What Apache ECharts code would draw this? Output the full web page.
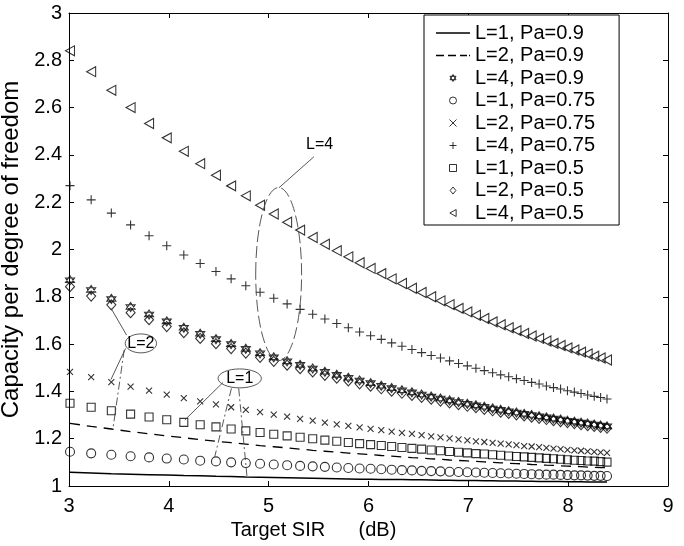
<!DOCTYPE html>
<html>
<head>
<meta charset="utf-8">
<script src="https://cdn.jsdelivr.net/npm/echarts@6/dist/echarts.min.js"></script>
<style>
html,body{margin:0;padding:0;background:#fff;}
#chart{width:684px;height:546px;}
</style>
</head>
<body>
<div id="chart"></div>
<script>
// Target SIR in dB (x positions of the computed points)
const sirDb = [3.010,3.222,3.424,3.617,3.802,3.979,4.150,4.314,4.472,4.624,
  4.771,4.914,5.051,5.185,5.315,5.441,5.563,5.682,5.798,5.911,
  6.021,6.128,6.232,6.335,6.435,6.532,6.628,6.721,6.812,6.902,
  6.990,7.076,7.160,7.243,7.324,7.404,7.482,7.559,7.634,7.709,
  7.782,7.853,7.924,7.993,8.062,8.129,8.195,8.261,8.325,8.389];

const seriesNames = ['L=1, Pa=0.9','L=2, Pa=0.9','L=4, Pa=0.9','L=1, Pa=0.75','L=2, Pa=0.75','L=4, Pa=0.75','L=1, Pa=0.5','L=2, Pa=0.5','L=4, Pa=0.5'];

const capL1Pa090 = [1.058,1.055,1.052,1.050,1.048,1.046,1.044,1.043,1.041,1.040,
  1.038,1.037,1.036,1.035,1.034,1.033,1.032,1.031,1.030,1.029,
  1.029,1.028,1.027,1.027,1.026,1.026,1.025,1.024,1.024,1.023,
  1.023,1.023,1.022,1.022,1.021,1.021,1.021,1.020,1.020,1.019,
  1.019,1.019,1.019,1.018,1.018,1.018,1.017,1.017,1.017,1.017];
const capL2Pa090 = [1.265,1.252,1.241,1.230,1.221,1.212,1.204,1.196,1.189,1.183,
  1.177,1.171,1.166,1.161,1.156,1.151,1.147,1.143,1.139,1.136,
  1.133,1.129,1.126,1.123,1.120,1.118,1.115,1.113,1.110,1.108,
  1.106,1.104,1.102,1.100,1.098,1.096,1.095,1.093,1.091,1.090,
  1.088,1.087,1.085,1.084,1.083,1.082,1.080,1.079,1.078,1.077];
const capL4Pa090 = [1.870,1.829,1.791,1.757,1.725,1.696,1.669,1.644,1.621,1.600,
  1.580,1.561,1.544,1.527,1.512,1.497,1.483,1.470,1.458,1.446,
  1.435,1.424,1.414,1.405,1.396,1.387,1.378,1.370,1.362,1.355,
  1.348,1.341,1.335,1.328,1.322,1.316,1.311,1.305,1.300,1.295,
  1.290,1.285,1.281,1.276,1.272,1.268,1.264,1.260,1.256,1.252];
const capL1Pa075 = [1.145,1.138,1.132,1.126,1.121,1.116,1.112,1.107,1.104,1.100,
  1.097,1.094,1.091,1.088,1.085,1.083,1.081,1.078,1.076,1.074,
  1.073,1.071,1.069,1.067,1.066,1.064,1.063,1.062,1.060,1.059,
  1.058,1.057,1.056,1.055,1.054,1.053,1.052,1.051,1.050,1.049,
  1.048,1.048,1.047,1.046,1.045,1.045,1.044,1.043,1.043,1.042];
const capL2Pa075 = [1.483,1.460,1.439,1.420,1.403,1.386,1.372,1.358,1.345,1.333,
  1.322,1.312,1.302,1.293,1.284,1.276,1.268,1.261,1.254,1.248,
  1.242,1.236,1.230,1.225,1.220,1.215,1.210,1.206,1.201,1.197,
  1.193,1.189,1.186,1.182,1.179,1.176,1.173,1.169,1.167,1.164,
  1.161,1.158,1.156,1.153,1.151,1.149,1.146,1.144,1.142,1.140];
const capL4Pa075 = [2.270,2.210,2.154,2.104,2.058,2.016,1.977,1.941,1.907,1.876,
  1.847,1.819,1.794,1.770,1.747,1.726,1.706,1.687,1.669,1.651,
  1.635,1.620,1.605,1.591,1.577,1.564,1.552,1.541,1.529,1.518,
  1.508,1.498,1.488,1.479,1.470,1.462,1.454,1.446,1.438,1.431,
  1.423,1.416,1.410,1.403,1.397,1.391,1.385,1.379,1.374,1.368];
const capL1Pa050 = [1.350,1.333,1.318,1.304,1.292,1.280,1.269,1.259,1.250,1.241,
  1.233,1.226,1.219,1.212,1.206,1.200,1.194,1.189,1.184,1.179,
  1.175,1.171,1.167,1.163,1.159,1.156,1.152,1.149,1.146,1.143,
  1.140,1.137,1.135,1.132,1.130,1.127,1.125,1.123,1.121,1.119,
  1.117,1.115,1.113,1.111,1.109,1.108,1.106,1.105,1.103,1.101];
const capL2Pa050 = [1.843,1.803,1.766,1.733,1.703,1.674,1.648,1.624,1.602,1.581,
  1.562,1.544,1.527,1.511,1.496,1.482,1.468,1.456,1.444,1.432,
  1.422,1.411,1.401,1.392,1.383,1.375,1.367,1.359,1.351,1.344,
  1.337,1.331,1.324,1.318,1.312,1.307,1.301,1.296,1.291,1.286,
  1.281,1.276,1.272,1.268,1.264,1.259,1.255,1.252,1.248,1.244];
const capL4Pa050 = [2.840,2.752,2.673,2.600,2.533,2.472,2.415,2.363,2.314,2.269,
  2.227,2.187,2.150,2.115,2.082,2.051,2.022,1.995,1.969,1.944,
  1.920,1.898,1.876,1.856,1.836,1.818,1.800,1.783,1.767,1.751,
  1.736,1.722,1.708,1.694,1.682,1.669,1.657,1.645,1.634,1.624,
  1.613,1.603,1.594,1.584,1.575,1.566,1.558,1.549,1.541,1.533];

// Annotation anchors in data coordinates
const annoEllipses = [
  {label:'L=4', c:[5.10,1.896], r:[0.23,0.366], dash:true},
  {label:'L=2', c:[3.72,1.603], r:[0.157,0.040], dash:false},
  {label:'L=1', c:[4.71,1.455], r:[0.217,0.040], dash:false}
];
const annoLabelL4 = [5.51, 2.442];
const annoLeaders = [
  {from:[5.453,2.392], to:[5.103,2.261], dash:false},
  {from:[3.577,1.638], to:[3.42,1.752], dash:false},
  {from:[3.567,1.582], to:[3.42,1.450], dash:false},
  {from:[3.553,1.575], to:[3.443,1.251], dash:true},
  {from:[4.543,1.438], to:[4.16,1.279], dash:false},
  {from:[4.627,1.413], to:[4.46,1.124], dash:true},
  {from:[4.70,1.413], to:[4.783,1.039], dash:true}
];

const FONT = '"Liberation Sans", Arial, Helvetica, sans-serif';
const pairs = ys => sirDb.map((x, i) => [x, ys[i]]);
const hollow = {color:'rgba(0,0,0,0)', borderColor:'#000', borderWidth:1.1};
const HEX = 'path://M5,0L9.33,7.5L0.67,7.5Z M5,10L0.67,2.5L9.33,2.5Z';
const PLUS = 'path://M0,5L10,5M5,0L5,10';
const CROSS = 'path://M0,0L10,10M10,0L0,10';
const SQUARE = 'path://M0,0L10,0L10,10L0,10Z';
const DIAMOND = 'path://M5,0L10,6L5,12L0,6Z';
const TRILEFT = 'path://M0,5L9,0L9,10Z';
const LEG_SOLID = 'path://M0,0L34,0L34,1.3L0,1.3Z';
const LEG_DASH = 'path://M0,0L8,0L8,1.3L0,1.3Z M12,0L20,0L20,1.3L12,1.3Z M24,0L31,0L31,1.3L24,1.3Z M33,0L34,0L34,1.3L33,1.3Z';

const chart = echarts.init(document.getElementById('chart'), null, {renderer:'canvas'});

function scatter(name, ys, symbol, size) {
  return {name, type:'scatter', data:pairs(ys), symbol, symbolSize:size,
    itemStyle:hollow, silent:true, z:3};
}

const axisCommon = {
  axisLine:{show:true, onZero:false, lineStyle:{color:'#000', width:1}},
  axisTick:{show:true, inside:true, length:5, lineStyle:{color:'#000', width:1}},
  splitLine:{show:false}
};

const legendIcons = [LEG_SOLID, LEG_DASH, HEX, 'circle', CROSS, PLUS, SQUARE, DIAMOND, TRILEFT];

const option = {
  animation:false,
  backgroundColor:'#fff',
  grid:{left:69, right:16, top:13, bottom:60, containLabel:false, outerBoundsMode:'none'},
  xAxis:[
    Object.assign({type:'value', position:'bottom', min:3, max:9, interval:1,
      name:'Target SIR      (dB)', nameLocation:'middle', nameGap:23,
      nameTextStyle:{fontFamily:FONT, fontSize:20, color:'#000', padding:[0,110,0,0]},
      axisLabel:{fontFamily:FONT, fontSize:20, color:'#000', margin:10}}, axisCommon),
    Object.assign({type:'value', position:'top', min:3, max:9, interval:1,
      axisLabel:{show:false}}, axisCommon)
  ],
  yAxis:[
    Object.assign({type:'value', position:'left', min:1, max:3, interval:0.2,
      name:'Capacity per degree of freedom', nameLocation:'middle', nameGap:24,
      nameTextStyle:{fontFamily:FONT, fontSize:24, color:'#000'},
      axisLabel:{fontFamily:FONT, fontSize:20, color:'#000', margin:7}}, axisCommon),
    Object.assign({type:'value', position:'right', min:1, max:3, interval:0.2,
      axisLabel:{show:false}}, axisCommon)
  ],
  legend:{
    orient:'vertical', left:424, top:15,
    padding:[8,24,2,12], itemGap:2.5, itemWidth:34, itemHeight:7, itemTextGap:20,
    borderColor:'#000', borderWidth:1, backgroundColor:'#fff',
    textStyle:{fontFamily:FONT, fontSize:20, color:'#000'},
    itemStyle:{borderWidth:1},
    data:seriesNames.map((n, i) => i < 2
      ? {name:n, icon:legendIcons[i], itemStyle:{color:'#000', borderWidth:0}}
      : {name:n, icon:legendIcons[i]}),
    selectedMode:false
  },
  series:[
    {name:seriesNames[0], type:'line', data:pairs(capL1Pa090), symbol:'none', silent:true,
      lineStyle:{color:'#000', width:1.5}, itemStyle:{color:'#000'}},
    {name:seriesNames[1], type:'line', data:pairs(capL2Pa090), symbol:'none', silent:true,
      lineStyle:{color:'#000', width:1.3, type:[10,7]}, itemStyle:{color:'#000'}},
    scatter(seriesNames[2], capL4Pa090, HEX, 9),
    scatter(seriesNames[3], capL1Pa075, 'circle', 9),
    scatter(seriesNames[4], capL2Pa075, CROSS, 6),
    scatter(seriesNames[5], capL4Pa075, PLUS, 9),
    scatter(seriesNames[6], capL1Pa050, SQUARE, 8),
    scatter(seriesNames[7], capL2Pa050, DIAMOND, [9,10]),
    scatter(seriesNames[8], capL4Pa050, TRILEFT, [9,10])
  ]
};
chart.setOption(option);

// Annotations (ellipses, labels, leader lines) placed through the axes' scales
const toPx = p => chart.convertToPixel({xAxisIndex:0, yAxisIndex:0}, p);
const graphics = [];
const annoStroke = '#444';
annoEllipses.forEach(e => {
  const c = toPx(e.c);
  const rx = Math.abs(toPx([e.c[0] + e.r[0], e.c[1]])[0] - c[0]);
  const ry = Math.abs(toPx([e.c[0], e.c[1] + e.r[1]])[1] - c[1]);
  graphics.push({type:'ellipse', silent:true, z:10,
    shape:{cx:c[0], cy:c[1], rx, ry},
    style:{fill:e.dash ? 'none' : '#fff', stroke:annoStroke, lineWidth:0.9, lineDash:e.dash ? [12,4] : null}});
  if (e.label !== 'L=4') {
    graphics.push({type:'text', silent:true, z:11, x:c[0], y:c[1],
      style:{text:e.label, font:'16px ' + FONT, fill:'#000', align:'center', verticalAlign:'middle',
        textAlign:'center', textVerticalAlign:'middle'}});
  }
});
const l4 = toPx(annoLabelL4);
graphics.push({type:'text', silent:true, z:11, x:l4[0], y:l4[1],
  style:{text:'L=4', font:'16px ' + FONT, fill:'#000', align:'center', verticalAlign:'middle',
    textAlign:'center', textVerticalAlign:'middle'}});
annoLeaders.forEach(l => {
  const a = toPx(l.from), b = toPx(l.to);
  graphics.push({type:'line', silent:true, z:10,
    shape:{x1:a[0], y1:a[1], x2:b[0], y2:b[1]},
    style:{stroke:annoStroke, lineWidth:0.9, lineDash:l.dash ? [8,3,2,3] : null}});
});
chart.setOption({graphic:graphics});
</script>
</body>
</html>
